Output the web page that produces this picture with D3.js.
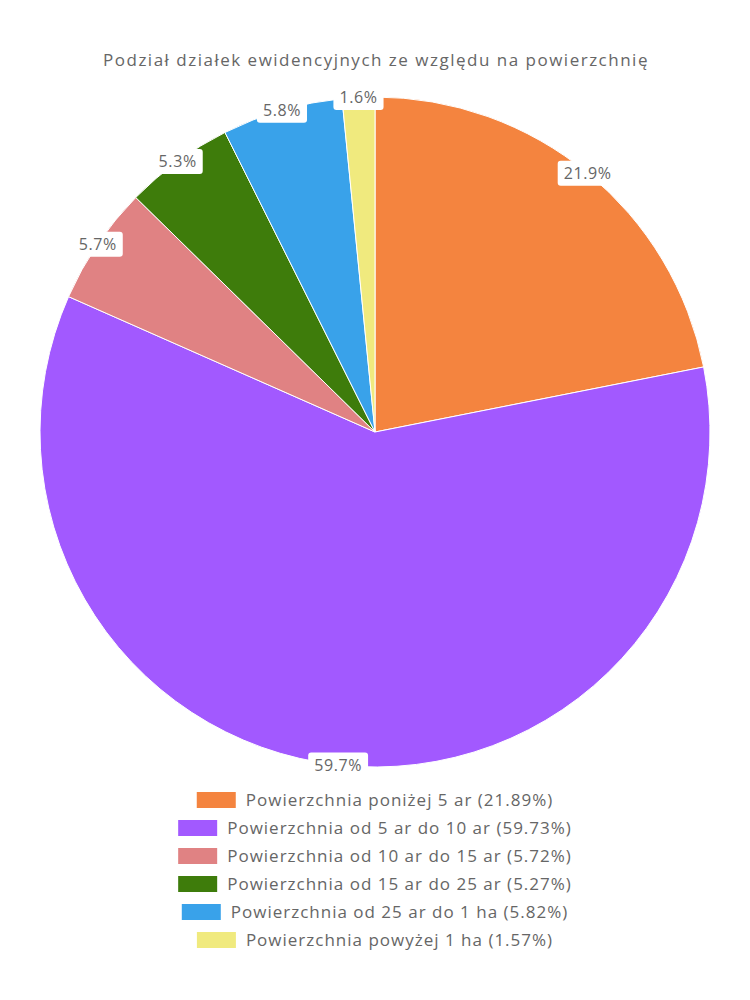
<!DOCTYPE html>
<html>
<head>
  <meta charset="utf-8">
  <title>Podział działek</title>
  <script src="https://d3js.org/d3.v7.min.js"></script>
  <style>
    body { margin: 0; background: #fff; }
    text { font-family: "Open Sans", sans-serif; fill: #666; }
  </style>
</head>
<body>
  <svg width="750" height="1000"></svg>
  <script>
    const title = "Podział działek ewidencyjnych ze względu na powierzchnię";
    const categories = [
      "Powierzchnia poniżej 5 ar",
      "Powierzchnia od 5 ar do 10 ar",
      "Powierzchnia od 10 ar do 15 ar",
      "Powierzchnia od 15 ar do 25 ar",
      "Powierzchnia od 25 ar do 1 ha",
      "Powierzchnia powyżej 1 ha"
    ];
    const values = [21.89, 59.73, 5.72, 5.27, 5.82, 1.57];
    const colors = ["#f4843f", "#a259ff", "#e08283", "#3e7c0b", "#39a2ea", "#f0ea7e"];

    const svg = d3.select("svg");
    const cx = 375, cy = 432, radius = 335;

    svg.append("text")
      .attr("x", 376)
      .attr("y", 66)
      .attr("text-anchor", "middle")
      .style("font-size", "17px")
      .style("letter-spacing", "1.5px")
      .text(title);

    const data = categories.map((c, i) => ({ name: c, value: values[i], color: colors[i] }));
    const pie = d3.pie().value(d => d.value).sort(null);
    const arcs = pie(data);
    const arc = d3.arc().innerRadius(0).outerRadius(radius);

    const g = svg.append("g").attr("transform", "translate(" + cx + "," + cy + ")");

    g.selectAll("path")
      .data(arcs)
      .enter()
      .append("path")
      .attr("d", arc)
      .attr("fill", d => d.data.color)
      .attr("stroke", "#fff")
      .attr("stroke-width", 1);

    // labels sitting on the outer edge, with a white box behind
    const labelArc = d3.arc().innerRadius(radius).outerRadius(radius);
    const labels = g.selectAll(".lbl")
      .data(arcs)
      .enter()
      .append("g")
      .attr("class", "lbl")
      .attr("transform", d => {
        const c = labelArc.centroid(d);
        return "translate(" + c[0] + "," + c[1] + ")";
      });

    labels.append("text")
      .attr("text-anchor", "middle")
      .attr("dy", "0.35em")
      .style("font-size", "16px")
      .style("letter-spacing", "0.6px")
      .text(d => d.data.value.toFixed(1) + "%");

    labels.each(function() {
      const t = d3.select(this).select("text");
      const bb = t.node().getBBox();
      d3.select(this).insert("rect", "text")
        .attr("x", bb.x - 6)
        .attr("y", bb.y - 1)
        .attr("width", bb.width + 12)
        .attr("height", bb.height + 3)
        .attr("rx", 3)
        .attr("fill", "#fff");
    });

    // legend, each row centred
    const legend = svg.append("g");
    const rowY = d3.scaleBand().domain(d3.range(data.length)).range([786, 954]);
    data.forEach((d, i) => {
      const row = legend.append("g");
      const txt = row.append("text")
        .attr("x", 50)
        .attr("y", rowY(i) + rowY.bandwidth() / 2)
        .attr("dy", "0.35em")
        .style("font-size", "17px")
        .style("letter-spacing", "1px")
        .text(d.name + " (" + d.value.toFixed(2) + "%)");
      const w = txt.node().getComputedTextLength();
      const total = 39 + 10 + w;
      const x0 = 375 - total / 2;
      row.append("rect")
        .attr("x", x0)
        .attr("y", rowY(i) + rowY.bandwidth() / 2 - 8)
        .attr("width", 39)
        .attr("height", 16)
        .attr("fill", d.color);
      txt.attr("x", x0 + 49);
    });
  </script>
</body>
</html>
